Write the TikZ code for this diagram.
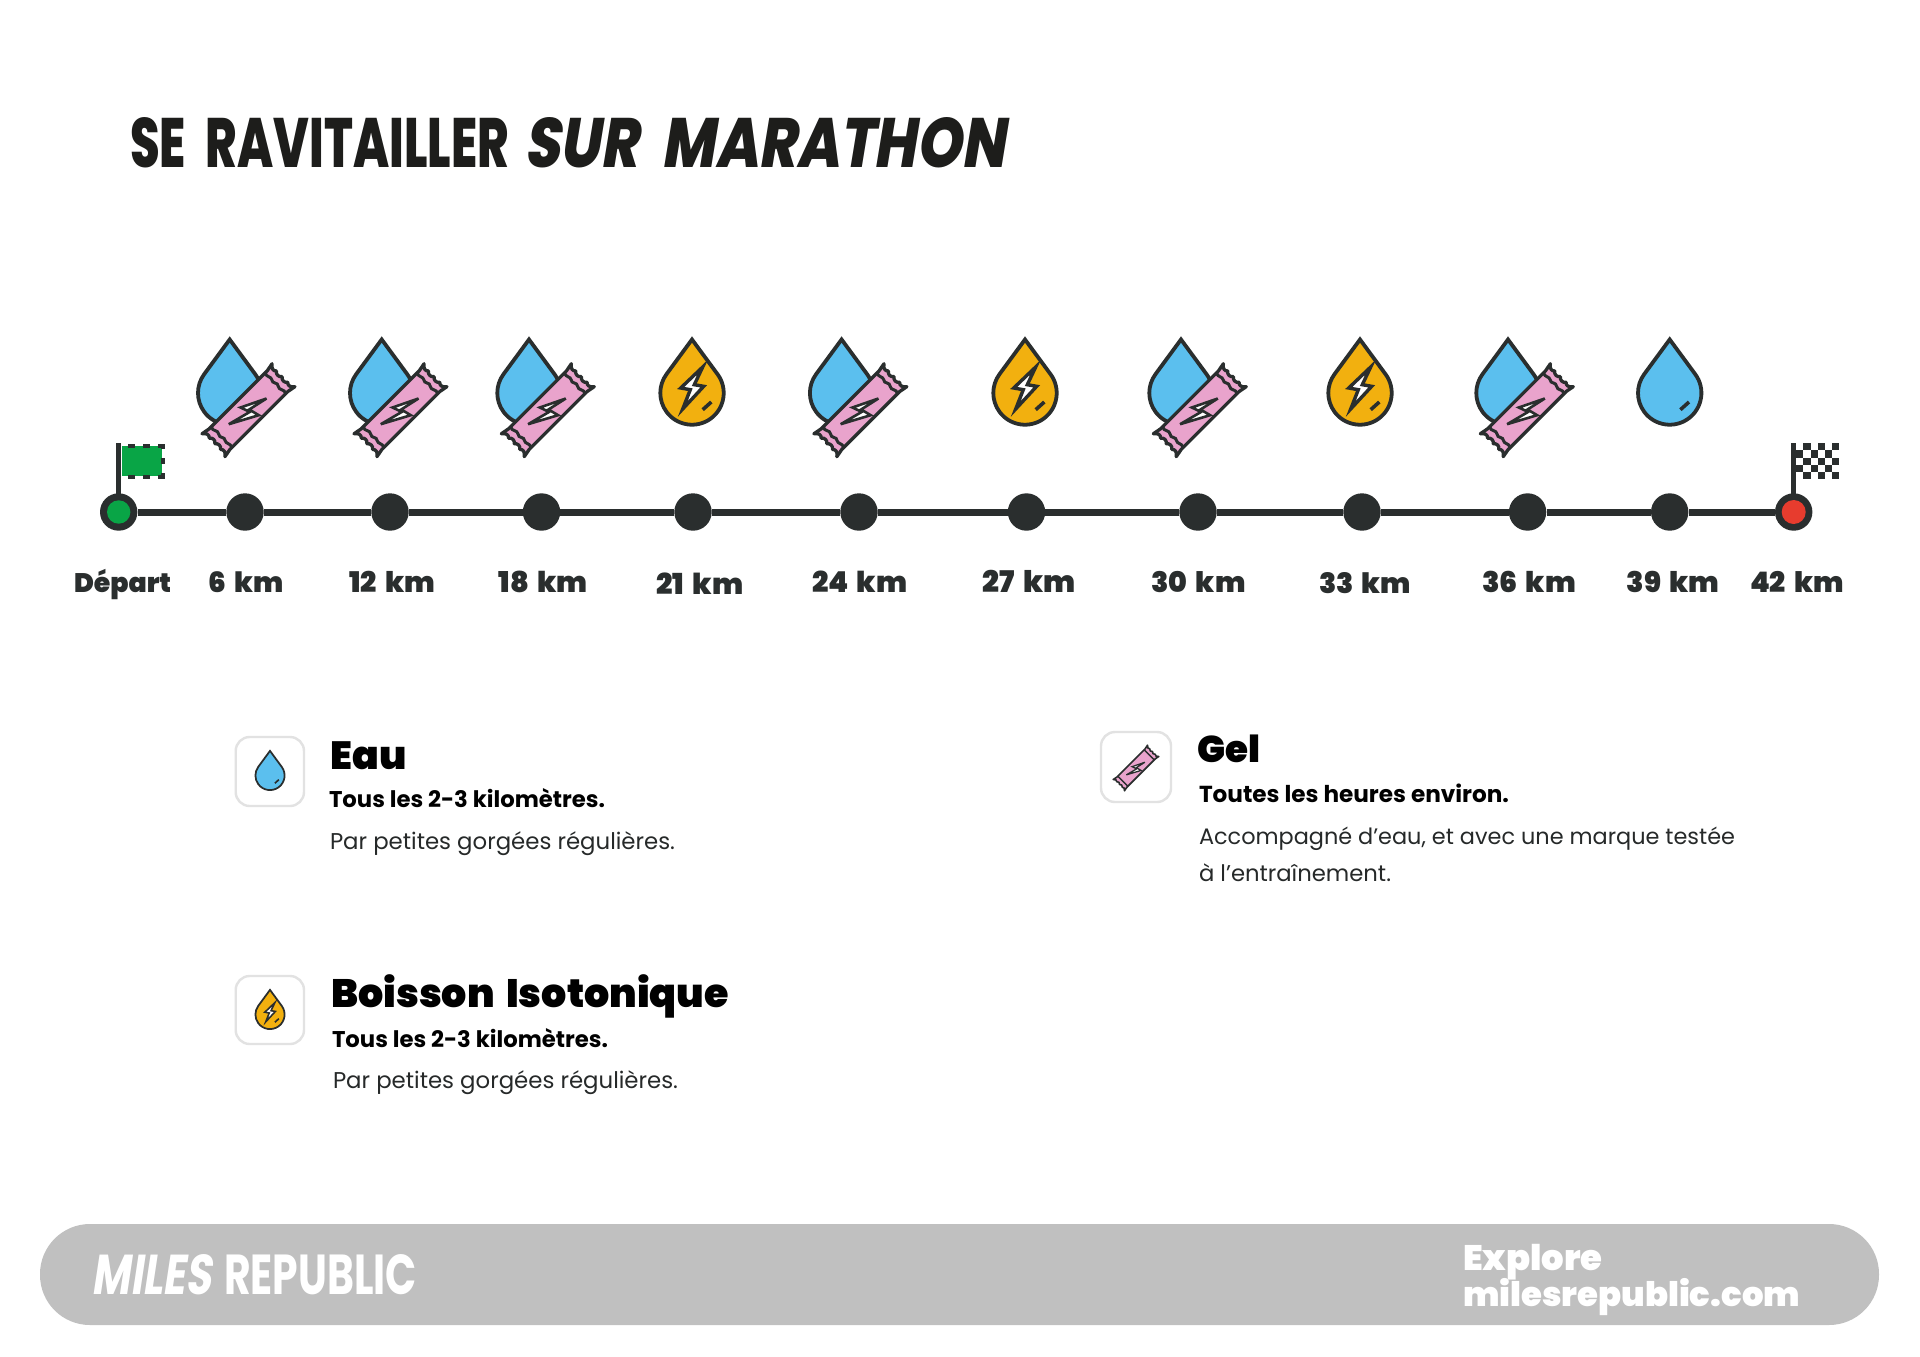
\documentclass[tikz,border=0pt]{standalone}
\usepackage{fontspec}
\usepackage{graphicx}
\setmainfont{Poppins}
\newfontfamily\pblack{Poppins Black}
\newfontfamily\pxbold{Poppins ExtraBold}
\newfontfamily\pslant[FakeSlant=0.2]{Poppins ExtraBold}
\newfontfamily\pboldslant[FakeSlant=0.2]{Poppins Bold}
\newfontfamily\pbold{Poppins Bold}
\newfontfamily\pbase{Poppins}
\definecolor{ink}{HTML}{2A2E2E}
\definecolor{titleink}{HTML}{1D1D1B}
\definecolor{blue}{HTML}{5BBFEE}
\definecolor{amber}{HTML}{F2B00F}
\definecolor{pinkbar}{HTML}{E9A3CC}
\definecolor{flaggreen}{HTML}{09A546}
\definecolor{flagred}{HTML}{E73C2E}
\definecolor{foot}{HTML}{C0C0C0}
\definecolor{boxgray}{HTML}{E2E2E2}
\tikzset{
  txt/.style={inner sep=0pt,outer sep=0pt,anchor=base west},
  kmlabel/.style={txt,text=ink},
  kmdot/.style={circle,fill=ink,inner sep=0pt,minimum size=37.4pt},
  iconbox/.style={draw=boxgray,line width=2.4pt,rounded corners=14pt,fill=white},
}
% width-fit text
\newcommand\fw[3]{\resizebox{#1pt}{!}{\fontsize{#2pt}{#2pt}\selectfont #3}}
\newcommand\fwh[3]{\resizebox{#1pt}{#2pt}{\fontsize{60pt}{60pt}\selectfont #3}}
\newcommand\xsp{\hspace{0.12em}}
% drop: x y scale fill
\newcommand\dropshape[4]{%
\begin{scope}[shift={(#1,#2)},scale=#3]
  \draw[draw=ink,fill=#4,line width=#3*3.8pt,line join=miter,miter limit=10]
    (0,53.5) -- (36.3:31.7) arc[start angle=36.3,end angle=-216.3,radius=31.7] -- cycle;
\end{scope}}
% bolt with white core
\newcommand\bolt[3]{%
\begin{scope}[shift={(#1,#2)},scale=#3]
  \draw[draw=ink,fill=white,line width=#3*3.4pt,line join=miter]
    (10.7,26) -- (-11.3,5) -- (-1.7,3.3) -- (-9.3,-16) -- (11.7,6.7) -- (2.3,8.3) -- cycle;
\end{scope}}
\newcommand\fullmark[3]{%
\begin{scope}[shift={(#1,#2)},scale=#3]
  \draw[ink,line width=#3*3.6pt] (10.7,-16.7) -- (19.3,-9);
\end{scope}}
% gel bar
\newcommand\gelbar[3]{%
\begin{scope}[shift={(#1,#2)},scale=#3]
  \begin{scope}[rotate=45]
  \draw[draw=ink,fill=pinkbar,line width=#3*3.3pt,line join=round]
    (49.5,-16.2) .. controls (45.5,-13.5) and (45,-10) .. (47.5,-8) .. controls (44.5,-6) and (44.5,-2) .. (47.5,0)
    .. controls (44.5,2) and (44.5,6) .. (47.5,8) .. controls (45,10) and (45.5,13.5) .. (49.5,16.2)
    -- (41,14.6) -- (-41,14.6) -- (-49.5,16.2)
    .. controls (-45.5,13.5) and (-45,10) .. (-47.5,8) .. controls (-44.5,6) and (-44.5,2) .. (-47.5,0)
    .. controls (-44.5,-2) and (-44.5,-6) .. (-47.5,-8) .. controls (-45,-10) and (-45.5,-13.5) .. (-49.5,-16.2)
    -- (-41,-14.6) -- (41,-14.6) -- cycle;
  \draw[ink,line width=#3*3pt] (38,-14.6) .. controls (41,-10) and (35,-8) .. (38,-4) .. controls (41,-1) and (35,2) .. (38,5) .. controls (40,8) and (36,10) .. (38,14.6);
  \draw[ink,line width=#3*3pt] (-38,14.6) .. controls (-41,10) and (-35,8) .. (-38,4) .. controls (-41,1) and (-35,-2) .. (-38,-5) .. controls (-40,-8) and (-36,-10) .. (-38,-14.6);
  \end{scope}
  \draw[draw=ink,fill=white,line width=#3*2.6pt,line join=miter,miter limit=8]
    (18,11.7) -- (-8,2.7) -- (1.3,-1.7) -- (-19.7,-14) -- (10.3,-5) -- (0.7,0.7) -- cycle;
\end{scope}}
\begin{document}
\begin{tikzpicture}[x=1pt,y=1pt]
\useasboundingbox (0,0) rectangle (1920,-1357);
\fill[white] (0,0) rectangle (1920,-1357);

% Title
\node[txt,text=titleink] (title1) at (130,-167.2) {\fwh{379}{50}{\pxbold SE\hspace{0.42em}RAVITAILLER}};
\node[txt,text=titleink] (title2) at (524,-167.2) {\fwh{481}{50}{\pslant SUR\hspace{0.42em}MARATHON}};

% Timeline nodes
\node[kmdot] (n0)  at (118.7,-512) {};
\node[kmdot] (n1)  at (245,-512) {};
\node[kmdot] (n2)  at (390,-512) {};
\node[kmdot] (n3)  at (541.5,-512) {};
\node[kmdot] (n4)  at (693,-512) {};
\node[kmdot] (n5)  at (859,-512) {};
\node[kmdot] (n6)  at (1026.5,-512) {};
\node[kmdot] (n7)  at (1198,-512) {};
\node[kmdot] (n8)  at (1362,-512) {};
\node[kmdot] (n9)  at (1527.6,-512) {};
\node[kmdot] (n10) at (1669.7,-512) {};
\node[kmdot] (n11) at (1793.7,-512) {};
\draw[ink,line width=7pt] (n0) -- (n1) -- (n2) -- (n3) -- (n4) -- (n5) -- (n6) -- (n7) -- (n8) -- (n9) -- (n10) -- (n11);
\node[circle,fill=flaggreen,inner sep=0pt,minimum size=23.4pt] (start) at (n0) {};
\node[circle,fill=flagred,inner sep=0pt,minimum size=24pt] (finish) at (n11) {};

% Start flag
\fill[ink] (116.3,-443) rectangle (121,-495);
\fill[flaggreen] (121.7,-446) rectangle (161.7,-475.7);
\foreach \a in {128,143,158}{
  \fill[ink] (\a,-443.5) rectangle (\a+7,-447.5);
  \fill[ink] (\a,-474.5) rectangle (\a+7,-479);
}
\fill[ink] (160.8,-443.5) rectangle (165,-449);
\fill[ink] (160.8,-458.3) rectangle (165,-464);
\fill[ink] (160.8,-473) rectangle (165,-479);

% Finish flag
\fill[ink] (1791,-443) rectangle (1796.3,-495);
\foreach \c in {0,...,5}{\foreach \r in {0,...,4}{
  \pgfmathtruncatemacro\odd{mod(\c+\r,2)}
  \ifnum\odd=1
    \fill[ink] (1796.3+7.17*\c,-443.3-7.12*\r) rectangle ++(7.17,-7.12);
  \fi
}}

% Upper icons
\foreach \x in {229.7,381.7,529,841.6,1181,1508}{
  \dropshape{\x}{-393}{1}{blue}
  \gelbar{\x+18.8}{-410.2}{1}
}
\foreach \x in {692,1025,1360}{
  \dropshape{\x}{-393}{1}{amber}
  \bolt{\x}{-393}{1}
  \fullmark{\x}{-393}{1}
}
\dropshape{1669.7}{-393}{1}{blue}
\fullmark{1669.7}{-393}{1}

% km labels
\node[kmlabel] (l0)  at (74,-592.7)     {\fw{97}{27}{\pblack Départ}};
\node[kmlabel] (l1)  at (208.3,-592.7)  {\fw{75}{27}{\pblack 6\xsp\ km}};
\node[kmlabel] (l2)  at (349.3,-592.7)  {\fw{85.7}{27}{\pblack 12\xsp\ km}};
\node[kmlabel] (l3)  at (498.6,-592.7)  {\fw{89}{27}{\pblack 18\xsp\ km}};
\node[kmlabel] (l4)  at (656.6,-594)    {\fw{87}{27}{\pblack 21\xsp\ km}};
\node[kmlabel] (l5)  at (812,-592.7)    {\fw{95.5}{27}{\pblack 24\xsp\ km}};
\node[kmlabel] (l6)  at (982.5,-592.7)  {\fw{93}{27}{\pblack 27\xsp\ km}};
\node[kmlabel] (l7)  at (1151.5,-592.7) {\fw{94}{27}{\pblack 30\xsp\ km}};
\node[kmlabel] (l8)  at (1319,-593.5)   {\fw{92}{27}{\pblack 33\xsp\ km}};
\node[kmlabel] (l9)  at (1482,-592.7)   {\fw{94}{27}{\pblack 36\xsp\ km}};
\node[kmlabel] (l10) at (1626.7,-592.7) {\fw{92.7}{27}{\pblack 39\xsp\ km}};
\node[kmlabel] (l11) at (1750,-592.7)   {\fw{93.7}{27}{\pblack 42\xsp\ km}};

% Legend: Eau
\draw[iconbox] (235.7,-737) rectangle (304,-806);
\dropshape{270}{-775.5}{0.46}{blue}
\fullmark{270}{-775.5}{0.46}
\node[txt,text=black] (eau) at (330.7,-769) {\fw{76}{40}{\pblack Eau}};
\node[txt,text=black] (eau1) at (329,-807.7) {\fw{276}{23}{\pbold Tous les 2-3 kilomètres.}};
\node[txt,text=ink!90!black] (eau2) at (330,-849) {\fw{345}{23}{\pbase Par petites gorgées régulières.}};

% Legend: Boisson
\draw[iconbox] (235.7,-976) rectangle (304,-1044);
\dropshape{270}{-1014.5}{0.46}{amber}
\bolt{270}{-1014.5}{0.46}
\fullmark{270}{-1014.5}{0.46}
\node[txt,text=black] (iso) at (331,-1007.7) {\fw{398}{40}{\pblack Boisson\xsp\ Isotonique}};
\node[txt,text=black] (iso1) at (332,-1047) {\fw{276}{23}{\pbold Tous les 2-3 kilomètres.}};
\node[txt,text=ink!90!black] (iso2) at (333,-1088) {\fw{345}{23}{\pbase Par petites gorgées régulières.}};

% Legend: Gel
\draw[iconbox] (1101,-732) rectangle (1171,-802);
\gelbar{1136}{-768}{0.49}
\node[txt,text=black] (gel) at (1197,-762.7) {\fw{63}{40}{\pblack Gel}};
\node[txt,text=black] (gel1) at (1199,-802.7) {\fw{310}{23}{\pbold Toutes les heures environ.}};
\node[txt,text=ink!90!black] (gel2) at (1199,-844) {\fw{536}{23}{\pbase Accompagné d’eau, et avec une marque testée}};
\node[txt,text=ink!90!black] (gel3) at (1199,-881.7) {\fw{192}{23}{\pbase à l’entraînement.}};

% Footer
\fill[foot] (40,-1224) [rounded corners=50pt] rectangle (1879,-1325);
\node[txt,text=white] (brand1) at (91.7,-1294) {\fwh{120}{40}{\pboldslant MILES}};
\node[txt,text=white] (brand2) at (224,-1294) {\fwh{193}{40}{\pbold REPUBLIC}};
\node[txt,text=white] (url1) at (1463,-1270.5) {\fw{139.7}{36}{\pblack Explore}};
\node[txt,text=white] (url2) at (1463,-1306.7) {\fw{337}{36}{\pblack milesrepublic.com}};
\end{tikzpicture}
\end{document}
